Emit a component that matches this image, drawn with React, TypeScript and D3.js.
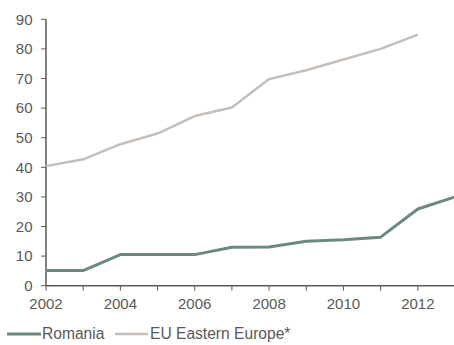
import React from "react";
import * as d3 from "d3";

const years = [2002, 2003, 2004, 2005, 2006, 2007, 2008, 2009, 2010, 2011, 2012, 2013];
const romania = [5.1, 5.1, 10.5, 10.5, 10.5, 13.0, 13.1, 15.0, 15.5, 16.4, 25.9, 30.0];
const euEastYears = [2002, 2003, 2004, 2005, 2006, 2007, 2008, 2009, 2010, 2011, 2012];
const euEastern = [40.4, 42.7, 47.8, 51.4, 57.3, 60.2, 69.8, 72.8, 76.4, 80.0, 84.8];
const yTicks = [0, 10, 20, 30, 40, 50, 60, 70, 80, 90];
const xLabelYears = [2002, 2004, 2006, 2008, 2010, 2012];
const seriesNames = ["Romania", "EU Eastern Europe*"];

const W = 454;
const H = 345;
const FONT = "Liberation Sans, Arial, sans-serif";
const FS = 15;
const LEGEND_FS = 15.6;
const TEXT = "#595959";
const GREEN = "#6b8a7b";
const GRAY = "#c5beb9";

export default function App() {
  const x = d3.scaleLinear().domain([2002, 2013]).range([46, 455]);
  const y = d3.scaleLinear().domain([0, 90]).range([285.7, 19.3]);

  const line = d3
    .line<[number, number]>()
    .x((d) => x(d[0]))
    .y((d) => y(d[1]));

  const roPath = line(years.map((yr, i) => [yr, romania[i]]) as [number, number][]) || "";
  const euPath = line(euEastYears.map((yr, i) => [yr, euEastern[i]]) as [number, number][]) || "";

  return (
    <svg
      width={W}
      height={H}
      style={{ position: "absolute", left: 0, top: 0 }}
      fontFamily={FONT}
    >
      <rect width={W} height={H} fill="#fff" />
      {/* y axis */}
      <line x1={x(2002)} x2={x(2002)} y1={y(90)} y2={y(0)} stroke={TEXT} strokeWidth={1.5} />
      {yTicks.map((t) => (
        <g key={t}>
          <line x1={x(2002) - 5} x2={x(2002)} y1={y(t)} y2={y(t)} stroke={TEXT} strokeWidth={1} />
          <text x={32.5} y={y(t)} dy="0.35em" textAnchor="end" fontSize={FS} fill={TEXT}>
            {t}
          </text>
        </g>
      ))}
      {/* x axis */}
      <line x1={x(2002)} x2={W} y1={y(0)} y2={y(0)} stroke={TEXT} strokeWidth={1.5} />
      {years.map((yr) => (
        <line key={yr} x1={x(yr)} x2={x(yr)} y1={y(0)} y2={y(0) + 5} stroke={TEXT} strokeWidth={1} />
      ))}
      {xLabelYears.map((yr) => (
        <text key={yr} x={x(yr)} y={309.3} textAnchor="middle" fontSize={FS} fill={TEXT}>
          {yr}
        </text>
      ))}
      {/* series */}
      <path d={euPath} fill="none" stroke={GRAY} strokeWidth={2.5} strokeLinejoin="round" />
      <path d={roPath} fill="none" stroke={GREEN} strokeWidth={3} strokeLinejoin="round" />
      {/* legend */}
      <line x1={7} x2={41} y1={334} y2={334} stroke={GREEN} strokeWidth={3} />
      <text x={42} y={334} dy="0.35em" fontSize={LEGEND_FS} fill={TEXT}>
        {seriesNames[0]}
      </text>
      <line x1={115} x2={148} y1={334} y2={334} stroke={GRAY} strokeWidth={2.5} />
      <text x={150} y={334} dy="0.35em" fontSize={LEGEND_FS} fill={TEXT}>
        {seriesNames[1]}
      </text>
    </svg>
  );
}
